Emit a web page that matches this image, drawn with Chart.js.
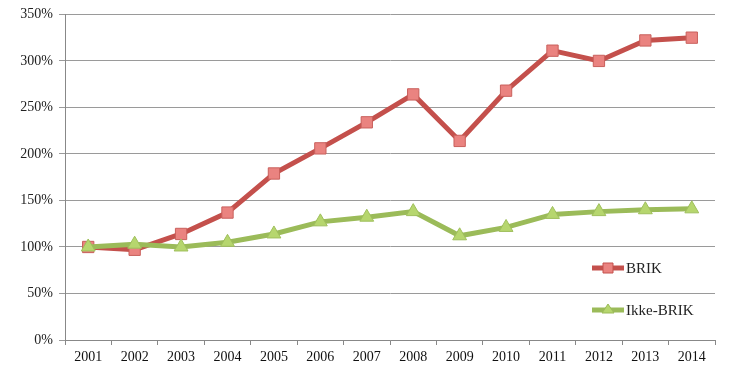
<!DOCTYPE html>
<html>
<head>
<meta charset="utf-8">
<script src="https://cdn.jsdelivr.net/npm/chart.js@4"></script>
<style>
  html, body { margin: 0; padding: 0; background: #fff; }
  #wrap { width: 729px; height: 387px; }
</style>
</head>
<body>
<div id="wrap"><canvas id="chart" width="729" height="387"></canvas></div>
<script>
// Données
const years = ['2001', '2002', '2003', '2004', '2005', '2006', '2007', '2008', '2009', '2010', '2011', '2012', '2013', '2014'];
const brik = [100, 97, 114, 137, 179, 206, 234, 264, 214, 268, 311, 300, 322, 325];
const ikkeBrik = [100, 103, 100, 105, 114, 127, 132, 138, 112, 121, 135, 138, 140, 141];
const seriesNames = ['BRIK', 'Ikke-BRIK'];

const RED = '#c4504c';
const RED_FILL = '#ea8380';
const GREEN = '#9bbb59';
const GREEN_FILL = '#b6d66e';
const FONT = "'Liberation Serif', 'DejaVu Serif', serif";

// Légende dessinée à l'intérieur de la zone du graphique
const insideLegend = {
    id: 'insideLegend',
    afterDraw(chart) {
        const ctx = chart.ctx;
        const items = [
            { y: 268, color: RED, fill: RED_FILL, shape: 'rect' },
            { y: 310, color: GREEN, fill: GREEN_FILL, shape: 'triangle' }
        ];
        ctx.save();
        items.forEach((it, i) => {
            ctx.strokeStyle = it.color;
            ctx.lineWidth = 5;
            ctx.beginPath();
            ctx.moveTo(592, it.y);
            ctx.lineTo(624, it.y);
            ctx.stroke();
            ctx.fillStyle = it.fill;
            ctx.strokeStyle = it.color;
            ctx.lineWidth = 1;
            ctx.beginPath();
            if (it.shape === 'rect') {
                ctx.rect(603, it.y - 5, 10, 10);
            } else {
                ctx.moveTo(608, it.y - 6);
                ctx.lineTo(614, it.y + 3);
                ctx.lineTo(602, it.y + 3);
                ctx.closePath();
            }
            ctx.fill();
            ctx.stroke();
            ctx.fillStyle = '#222';
            ctx.font = '15px ' + FONT;
            ctx.textBaseline = 'middle';
            ctx.textAlign = 'left';
            ctx.fillText(seriesNames[i], 626, it.y + 1);
        });
        ctx.restore();
    }
};

const ctx = document.getElementById('chart').getContext('2d');
new Chart(ctx, {
    type: 'line',
    data: {
        labels: years,
        datasets: [{
            label: seriesNames[0],
            data: brik,
            order: 1,
            borderColor: RED,
            backgroundColor: RED_FILL,
            borderWidth: 5,
            pointStyle: 'rect',
            pointRadius: 8,
            pointBorderWidth: 1,
            pointBorderColor: '#c9605c',
            tension: 0
        }, {
            label: seriesNames[1],
            data: ikkeBrik,
            order: 0,
            borderColor: GREEN,
            backgroundColor: GREEN_FILL,
            borderWidth: 5,
            pointStyle: 'triangle',
            pointRadius: 8,
            pointBorderWidth: 1,
            pointBorderColor: '#9fbf5c',
            tension: 0
        }]
    },
    options: {
        responsive: false,
        animation: false,
        layout: { padding: { top: 12, right: 14, left: 0, bottom: 0 } },
        plugins: {
            legend: { display: false },
            tooltip: { enabled: false }
        },
        scales: {
            x: {
                offset: true,
                grid: {
                    offset: true,
                    drawOnChartArea: false,
                    color: '#888',
                    tickLength: 5
                },
                border: { color: '#888' },
                ticks: {
                    color: '#111',
                    font: { family: FONT, size: 14 },
                    maxRotation: 0,
                    padding: 4
                },
                afterFit(scale) { scale.height = 47; }
            },
            y: {
                min: 0,
                max: 350,
                ticks: {
                    stepSize: 50,
                    color: '#222',
                    font: { family: FONT, size: 14 },
                    padding: 6,
                    callback: v => v + '%'
                },
                grid: {
                    color: '#9a9a9a',
                    tickLength: 6
                },
                border: { color: '#888' },
                afterFit(scale) { scale.width = 65; }
            }
        }
    },
    plugins: [insideLegend]
});
</script>
</body>
</html>
